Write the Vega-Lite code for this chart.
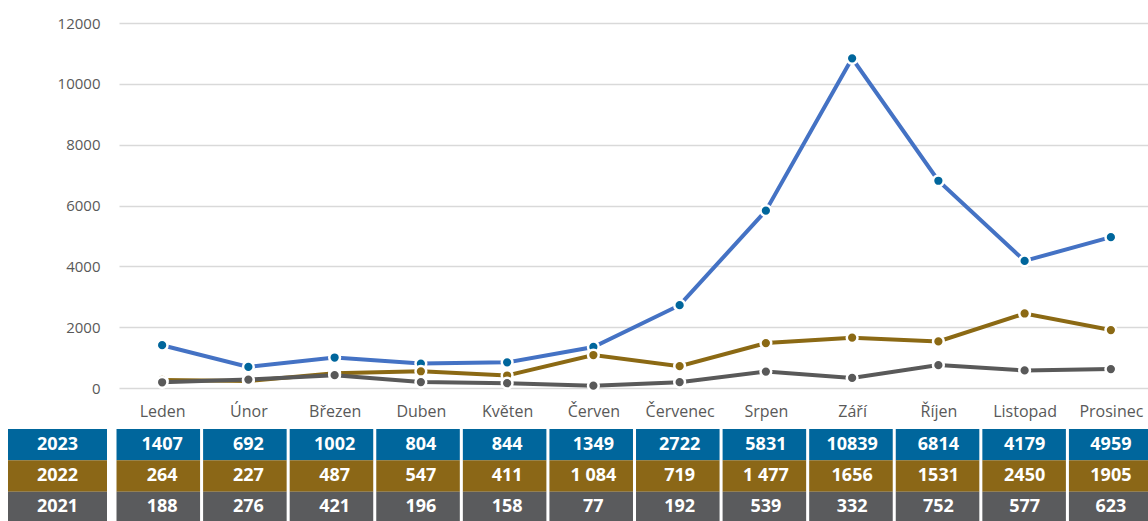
{
  "$schema": "https://vega.github.io/schema/vega-lite/v6.json",
  "width": 1029,
  "height": 365,
  "autosize": {"type": "none"},
  "padding": {"left": 119, "top": 23, "right": 0, "bottom": 133},
  "background": "white",
  "config": {"font": "Open Sans", "view": {"stroke": null}},
  "data": {"values": [
    {"month": "Leden", "year": "2023", "value": 1407, "label": "1407"},
    {"month": "Únor", "year": "2023", "value": 692, "label": "692"},
    {"month": "Březen", "year": "2023", "value": 1002, "label": "1002"},
    {"month": "Duben", "year": "2023", "value": 804, "label": "804"},
    {"month": "Květen", "year": "2023", "value": 844, "label": "844"},
    {"month": "Červen", "year": "2023", "value": 1349, "label": "1349"},
    {"month": "Červenec", "year": "2023", "value": 2722, "label": "2722"},
    {"month": "Srpen", "year": "2023", "value": 5831, "label": "5831"},
    {"month": "Září", "year": "2023", "value": 10839, "label": "10839"},
    {"month": "Říjen", "year": "2023", "value": 6814, "label": "6814"},
    {"month": "Listopad", "year": "2023", "value": 4179, "label": "4179"},
    {"month": "Prosinec", "year": "2023", "value": 4959, "label": "4959"},
    {"month": "Leden", "year": "2022", "value": 264, "label": "264"},
    {"month": "Únor", "year": "2022", "value": 227, "label": "227"},
    {"month": "Březen", "year": "2022", "value": 487, "label": "487"},
    {"month": "Duben", "year": "2022", "value": 547, "label": "547"},
    {"month": "Květen", "year": "2022", "value": 411, "label": "411"},
    {"month": "Červen", "year": "2022", "value": 1084, "label": "1 084"},
    {"month": "Červenec", "year": "2022", "value": 719, "label": "719"},
    {"month": "Srpen", "year": "2022", "value": 1477, "label": "1 477"},
    {"month": "Září", "year": "2022", "value": 1656, "label": "1656"},
    {"month": "Říjen", "year": "2022", "value": 1531, "label": "1531"},
    {"month": "Listopad", "year": "2022", "value": 2450, "label": "2450"},
    {"month": "Prosinec", "year": "2022", "value": 1905, "label": "1905"},
    {"month": "Leden", "year": "2021", "value": 188, "label": "188"},
    {"month": "Únor", "year": "2021", "value": 276, "label": "276"},
    {"month": "Březen", "year": "2021", "value": 421, "label": "421"},
    {"month": "Duben", "year": "2021", "value": 196, "label": "196"},
    {"month": "Květen", "year": "2021", "value": 158, "label": "158"},
    {"month": "Červen", "year": "2021", "value": 77, "label": "77"},
    {"month": "Červenec", "year": "2021", "value": 192, "label": "192"},
    {"month": "Srpen", "year": "2021", "value": 539, "label": "539"},
    {"month": "Září", "year": "2021", "value": 332, "label": "332"},
    {"month": "Říjen", "year": "2021", "value": 752, "label": "752"},
    {"month": "Listopad", "year": "2021", "value": 577, "label": "577"},
    {"month": "Prosinec", "year": "2021", "value": 623, "label": "623"}
  ]},
  "layer": [
    {
      "mark": {"type": "line", "strokeWidth": 4},
      "encoding": {
        "x": {"field": "month", "type": "nominal", "sort": ["Leden","Únor","Březen","Duben","Květen","Červen","Červenec","Srpen","Září","Říjen","Listopad","Prosinec"],
              "scale": {"type": "point", "padding": 0.5, "range": [0, 1035]},
              "axis": {"labelAngle": 0, "labelFontSize": 16, "labelColor": "#595959", "labelPadding": 15, "ticks": false, "domain": false, "grid": false, "title": null}},
        "y": {"field": "value", "type": "quantitative", "scale": {"domain": [0, 12000], "nice": false},
              "axis": {"values": [0, 2000, 4000, 6000, 8000, 10000, 12000], "format": "d", "labelFontSize": 15, "labelColor": "#595959", "labelPadding": 19, "ticks": false, "domain": false, "title": null, "gridColor": "#d9d9d9", "gridWidth": 1.5}},
        "color": {"field": "year", "type": "nominal", "scale": {"domain": ["2023", "2022", "2021"], "range": ["#4472C4", "#8B6914", "#595959"]}, "legend": null}
      }
    },
    {
      "mark": {"type": "point", "filled": true, "size": 115, "stroke": "white", "strokeWidth": 2.5, "opacity": 1},
      "encoding": {
        "x": {"field": "month", "type": "nominal", "sort": ["Leden","Únor","Březen","Duben","Květen","Červen","Červenec","Srpen","Září","Říjen","Listopad","Prosinec"],
              "scale": {"type": "point", "padding": 0.5, "range": [0, 1035]}, "axis": null},
        "y": {"field": "value", "type": "quantitative", "scale": {"domain": [0, 12000], "nice": false}, "axis": null},
        "fill": {"field": "year", "type": "nominal", "scale": {"domain": ["2023", "2022", "2021"], "range": ["#00669C", "#8B6914", "#595959"]}, "legend": null}
      }
    },
    {
      "mark": {"type": "rect"},
      "encoding": {
        "x": {"field": "month", "type": "nominal", "sort": ["Leden","Únor","Březen","Duben","Květen","Červen","Červenec","Srpen","Září","Říjen","Listopad","Prosinec"],
              "scale": {"type": "band", "paddingInner": 0.035, "paddingOuter": 0.0175, "range": [-4, 1035]}, "axis": null},
        "y": {"field": "year", "type": "nominal", "sort": ["2023", "2022", "2021"], "scale": {"type": "band", "range": [406, 500], "paddingInner": 0, "paddingOuter": 0}, "axis": null},
        "color": {"field": "year", "type": "nominal", "scale": {"domain": ["2023", "2022", "2021"], "range": ["#00669C", "#8B6717", "#5A5B5D"]}, "legend": null}
      }
    },
    {
      "mark": {"type": "text", "fontWeight": "bold", "fontSize": 18, "color": "white", "baseline": "middle", "align": "center"},
      "encoding": {
        "x": {"field": "month", "type": "nominal", "sort": ["Leden","Únor","Březen","Duben","Květen","Červen","Červenec","Srpen","Září","Říjen","Listopad","Prosinec"],
              "scale": {"type": "point", "padding": 0.5, "range": [0, 1035]}, "axis": null},
        "y": {"field": "year", "type": "nominal", "sort": ["2023", "2022", "2021"], "scale": {"type": "point", "range": [406, 500], "padding": 0.5}, "axis": null},
        "text": {"field": "label"}
      }
    },
    {
      "transform": [{"filter": "datum.month == 'Leden'"}],
      "mark": {"type": "rect"},
      "encoding": {
        "x": {"datum": "rok", "type": "nominal", "scale": {"type": "band", "range": [-111, -12], "paddingInner": 0, "paddingOuter": 0}, "axis": null},
        "y": {"field": "year", "type": "nominal", "sort": ["2023", "2022", "2021"], "scale": {"type": "band", "range": [406, 500], "paddingInner": 0, "paddingOuter": 0}, "axis": null},
        "color": {"field": "year", "type": "nominal", "scale": {"domain": ["2023", "2022", "2021"], "range": ["#00669C", "#8B6717", "#5A5B5D"]}, "legend": null}
      }
    },
    {
      "transform": [{"filter": "datum.month == 'Leden'"}],
      "mark": {"type": "text", "fontWeight": "bold", "fontSize": 18, "color": "white", "baseline": "middle", "align": "center"},
      "encoding": {
        "x": {"datum": "rok", "type": "nominal", "scale": {"type": "point", "range": [-111, -12], "padding": 0.5}, "axis": null},
        "y": {"field": "year", "type": "nominal", "sort": ["2023", "2022", "2021"], "scale": {"type": "point", "range": [406, 500], "padding": 0.5}, "axis": null},
        "text": {"field": "year"}
      }
    }
  ],
  "resolve": {"scale": {"x": "independent", "y": "independent", "color": "independent", "fill": "independent"}}
}
